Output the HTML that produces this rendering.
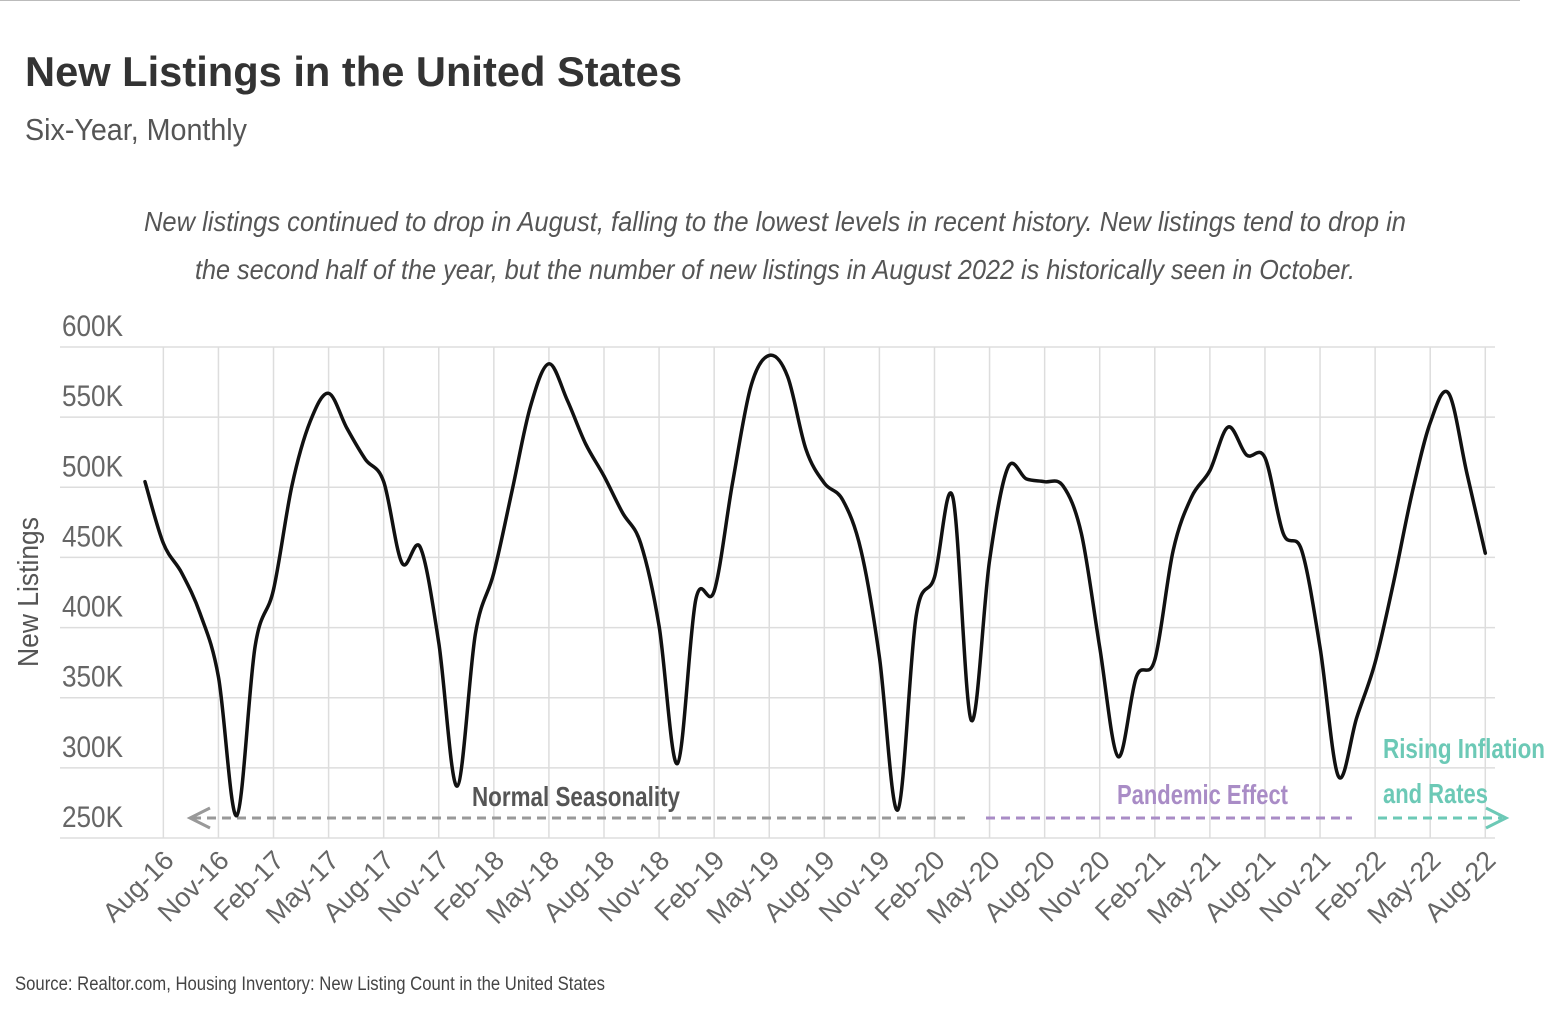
<!DOCTYPE html>
<html><head><meta charset="utf-8"><style>
html,body{margin:0;padding:0;background:#fff;}
svg{display:block;font-family:"Liberation Sans Narrow","Liberation Sans",sans-serif;}
</style></head><body>
<svg id="chart" width="1556" height="1012" viewBox="0 0 1556 1012" xmlns="http://www.w3.org/2000/svg">
<line x1="0" y1="0.5" x2="1520" y2="0.5" stroke="#bbb" stroke-width="1"/>
<text x="25" y="86" font-size="42" font-weight="bold" fill="#333" textLength="657" lengthAdjust="spacingAndGlyphs">New Listings in the United States</text>
<text x="25" y="140" font-size="31" fill="#555" textLength="222" lengthAdjust="spacingAndGlyphs">Six-Year, Monthly</text>
<text x="775" y="231" font-size="28" font-style="italic" fill="#555" text-anchor="middle" textLength="1262" lengthAdjust="spacingAndGlyphs">New listings continued to drop in August, falling to the lowest levels in recent history. New listings tend to drop in</text>
<text x="775" y="279" font-size="28" font-style="italic" fill="#555" text-anchor="middle" textLength="1160" lengthAdjust="spacingAndGlyphs">the second half of the year, but the number of new listings in August 2022 is historically seen in October.</text>
<g id="grid"></g>
<g id="yaxis"></g>
<g id="xaxis"></g>
<text transform="translate(38,592) rotate(-90)" font-size="29" fill="#555" text-anchor="middle" textLength="150" lengthAdjust="spacingAndGlyphs">New Listings</text>
<g id="phases">
  <line x1="192" y1="818" x2="965" y2="818" stroke="#999" stroke-width="3" stroke-dasharray="9,6"/>
  <polyline points="210,808 190,818 210,828" fill="none" stroke="#999" stroke-width="3"/>
  <text x="472" y="806" font-size="28" font-weight="bold" fill="#555" textLength="208" lengthAdjust="spacingAndGlyphs">Normal Seasonality</text>
  <line x1="986" y1="818" x2="1352" y2="818" stroke="#a98cc6" stroke-width="3" stroke-dasharray="9,6"/>
  <text x="1117" y="804" font-size="28" font-weight="bold" fill="#a98cc6" textLength="171" lengthAdjust="spacingAndGlyphs">Pandemic Effect</text>
  <line x1="1378" y1="818" x2="1502" y2="818" stroke="#6cc9b6" stroke-width="3" stroke-dasharray="9,6"/>
  <polyline points="1486,808 1506,818 1486,828" fill="none" stroke="#6cc9b6" stroke-width="3"/>
  <text x="1383" y="758" font-size="28" font-weight="bold" fill="#6cc9b6" textLength="162" lengthAdjust="spacingAndGlyphs">Rising Inflation</text>
  <text x="1383" y="803" font-size="28" font-weight="bold" fill="#6cc9b6" textLength="105" lengthAdjust="spacingAndGlyphs">and Rates</text>
</g>
<path id="series" fill="none" stroke="#111" stroke-width="3.5" stroke-linejoin="round" stroke-linecap="round"/>
<text x="15" y="990" font-size="19" fill="#444" textLength="590" lengthAdjust="spacingAndGlyphs">Source:  Realtor.com, Housing Inventory: New Listing Count in the United States</text>
</svg>
<script>
// Monthly new listings (thousands), Jul-16 .. Aug-22
const values = [504,460,439,410,365,266,387,427,501,547,567,542,520,504,446,457,389,287,396,439,498,558,588,562,531,508,482,460,401,303,420,426,503,572,594,579,527,503,491,455,379,270,408,436,493,334,448,514,506,504,501,467,386,308,365,377,455,493,512,543,523,521,467,455,386,294,336,375,432,495,546,567,510,453];
const yTicks = [250,300,350,400,450,500,550,600];
const yTickLabels = ["250K","300K","350K","400K","450K","500K","550K","600K"];
const xTickLabels = ["Aug-16","Nov-16","Feb-17","May-17","Aug-17","Nov-17","Feb-18","May-18","Aug-18","Nov-18","Feb-19","May-19","Aug-19","Nov-19","Feb-20","May-20","Aug-20","Nov-20","Feb-21","May-21","Aug-21","Nov-21","Feb-22","May-22","Aug-22"];

const NS = "http://www.w3.org/2000/svg";
const X0 = 145, DX = 18.36;
const xScale = i => X0 + i * DX;
const yScale = v => 838 - (v - 250) / 350 * 491;

const grid = document.getElementById('grid');
const yaxis = document.getElementById('yaxis');
const xaxis = document.getElementById('xaxis');

yTicks.forEach((t, k) => {
  const y = yScale(t);
  const ln = document.createElementNS(NS, 'line');
  ln.setAttribute('x1', 60); ln.setAttribute('x2', 1495);
  ln.setAttribute('y1', y); ln.setAttribute('y2', y);
  ln.setAttribute('stroke', '#ddd'); ln.setAttribute('stroke-width', '1.5');
  
  
  grid.appendChild(ln);
  const tx = document.createElementNS(NS, 'text');
  tx.setAttribute('x', 123); tx.setAttribute('y', y - 11);
  tx.setAttribute('text-anchor', 'end');
  tx.setAttribute('font-size', '30'); tx.setAttribute('fill', '#666');
  tx.setAttribute('textLength', '61'); tx.setAttribute('lengthAdjust', 'spacingAndGlyphs');
  tx.textContent = yTickLabels[k];
  
  
  yaxis.appendChild(tx);
});

xTickLabels.forEach((lab, k) => {
  const i = 1 + k * 3;
  const x = xScale(i);
  const ln = document.createElementNS(NS, 'line');
  ln.setAttribute('x1', x); ln.setAttribute('x2', x);
  ln.setAttribute('y1', 347); ln.setAttribute('y2', 838);
  ln.setAttribute('stroke', '#ddd'); ln.setAttribute('stroke-width', '1.5');
  
  
  grid.appendChild(ln);
  const tx = document.createElementNS(NS, 'text');
  tx.setAttribute('transform', 'translate(' + (x + 12) + ',862) rotate(-45)');
  tx.setAttribute('text-anchor', 'end');
  tx.setAttribute('font-size', '27'); tx.setAttribute('fill', '#666');
  tx.textContent = lab;
  
  
  xaxis.appendChild(tx);
});

// Smoothed line (Catmull-Rom to Bezier)
const pts = values.map((v, i) => [xScale(i), yScale(v)]);
let d = 'M' + pts[0][0].toFixed(1) + ',' + pts[0][1].toFixed(1);
for (let i = 0; i < pts.length - 1; i++) {
  const p0 = pts[Math.max(0, i - 1)], p1 = pts[i], p2 = pts[i + 1], p3 = pts[Math.min(pts.length - 1, i + 2)];
  const t = 6;
  const c1x = p1[0] + (p2[0] - p0[0]) / t, c1y = p1[1] + (p2[1] - p0[1]) / t;
  const c2x = p2[0] - (p3[0] - p1[0]) / t, c2y = p2[1] - (p3[1] - p1[1]) / t;
  d += ' C' + c1x.toFixed(1) + ',' + c1y.toFixed(1) + ' ' + c2x.toFixed(1) + ',' + c2y.toFixed(1) + ' ' + p2[0].toFixed(1) + ',' + p2[1].toFixed(1);
}
document.getElementById('series').setAttribute('d', d);
</script>
</body></html>
